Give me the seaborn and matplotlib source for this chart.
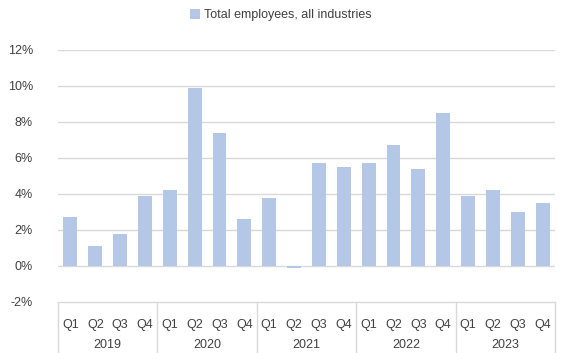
import matplotlib
matplotlib.use("Agg")
import matplotlib.pyplot as plt
import matplotlib.transforms as mtransforms
import seaborn as sns
import pandas as pd
from matplotlib.patches import Patch

# Quarterly growth in total employees, all industries (%)
years = ["2019", "2020", "2021", "2022", "2023"]
quarters = ["Q1", "Q2", "Q3", "Q4"]
values = [
    2.7, 1.1, 1.8, 3.9,
    4.2, 9.9, 7.4, 2.6,
    3.8, -0.1, 5.7, 5.5,
    5.7, 6.7, 5.4, 8.5,
    3.9, 4.2, 3.0, 3.5,
]
series_name = "Total employees, all industries"
y_ticks = [-2, 0, 2, 4, 6, 8, 10, 12]

bar_color = "#B4C7E7"
grid_color = "#D9D9D9"
text_color = "#404040"

labels = [f"{y} {q}" for y in years for q in quarters]
df = pd.DataFrame({"period": labels, "value": values})

sns.set_theme(style="white")
plt.rcParams["font.family"] = ["Liberation Sans", "DejaVu Sans"]

fig = plt.figure(figsize=(5.61, 3.53), dpi=100)
ax = fig.add_axes([58 / 561, 1 - 302 / 353, (555 - 58) / 561, (302 - 50) / 353])

sns.barplot(data=df, x="period", y="value", color=bar_color, width=0.56,
            saturation=1, ax=ax)
for p in ax.patches:
    p.set_zorder(3)
    p.set_edgecolor("none")

ax.set_ylim(-2, 12)
ax.set_xlim(-0.5, len(labels) - 0.5)
ax.set_yticks(y_ticks)
ax.set_yticklabels([f"{t}%" for t in y_ticks], fontsize=9, color=text_color)
for t in y_ticks:
    if t > -2:
        ax.axhline(t, color=grid_color, lw=1, zorder=1)

ax.set_xticks(range(len(labels)))
ax.set_xticklabels([q for _ in years for q in quarters], fontsize=9, color=text_color)
ax.tick_params(axis="x", length=0, pad=12)
ax.tick_params(axis="y", length=0, pad=18)
ax.set_xlabel("")
ax.set_ylabel("")

for side in ["top", "right", "left"]:
    ax.spines[side].set_visible(False)
ax.spines["bottom"].set_color(grid_color)
ax.spines["bottom"].set_linewidth(1)

# Year group labels and separators below the axis
trans = mtransforms.blended_transform_factory(ax.transData, ax.transAxes)
axis_h_px = 302 - 50
bottom_frac = -(353 - 302) / axis_h_px
year_y = -(345 - 302) / axis_h_px
for i, y in enumerate(years):
    center = i * 4 + 1.5
    ax.text(center, year_y, y, transform=trans, ha="center", va="center",
            fontsize=9, color=text_color)
for b in range(len(years) + 1):
    xpos = b * 4 - 0.5
    ax.plot([xpos, xpos], [0, bottom_frac], transform=trans, color=grid_color,
            lw=1, clip_on=False)

handle = Patch(facecolor=bar_color, edgecolor="none")
fig.legend([handle], [series_name], loc="center", bbox_to_anchor=(0.5, 1 - 15 / 353),
           frameon=False, fontsize=9, handlelength=0.8, handleheight=0.8,
           handletextpad=0.3, labelcolor=text_color)

fig.savefig("out.png", dpi=100)
